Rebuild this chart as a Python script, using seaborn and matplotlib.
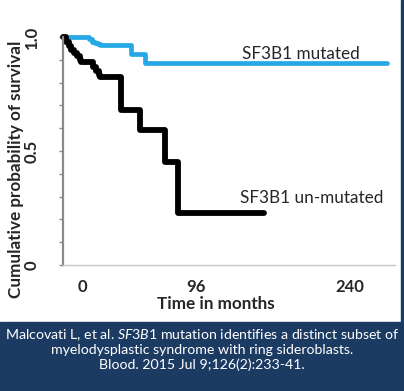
import numpy as np
import pandas as pd
import matplotlib
matplotlib.use("Agg")
import matplotlib.pyplot as plt
import seaborn as sns
from matplotlib.patches import Rectangle

# Kaplan-Meier steps (time in months, survival fraction)
mut_time = [0, 19, 21, 23, 25, 27, 49, 59, 234]
mut_surv = [1.0, 0.99, 0.98, 0.975, 0.97, 0.965, 0.925, 0.885, 0.885]

unmut_time = [0, 2, 4, 6, 8, 10, 12, 13, 22, 24, 26, 27, 42, 56, 74, 83, 145]
unmut_surv = [1.0, 0.98, 0.96, 0.945, 0.93, 0.915, 0.90, 0.89, 0.87, 0.85,
              0.835, 0.825, 0.68, 0.592, 0.452, 0.228, 0.228]

# x labels as drawn in the source figure (placed where the source draws them)
xtick_pos = [14, 96, 207]
xtick_lab = ["0", "96", "240"]
ytick_major = [0, 0.5, 1.0]
ytick_lab = ["0", "0.5", "1.0"]

citation = [
    r"Malcovati L, et al. $\mathit{SF3B1}$ mutation identifies a distinct subset of",
    "myelodysplastic syndrome with ring sideroblasts.",
    "Blood. 2015 Jul 9;126(2):233-41.",
]

BLUE = "#27A8E6"
NAVY = "#1C3B63"

sns.set_style("white")
plt.rcParams["font.family"] = ["Lato", "DejaVu Sans"]
plt.rcParams["mathtext.fontset"] = "custom"
plt.rcParams["mathtext.rm"] = "Lato"
plt.rcParams["mathtext.it"] = "Lato:italic"

df_mut = pd.DataFrame({"time": mut_time, "surv": mut_surv})
df_unmut = pd.DataFrame({"time": unmut_time, "surv": unmut_surv})

W, H = 404, 391
fig = plt.figure(figsize=(W / 100, H / 100), dpi=100)
ax = fig.add_axes([63 / W, 1 - 265 / H, (395 - 63) / W, (265 - 37) / H])

sns.lineplot(data=df_mut, x="time", y="surv", ax=ax, color=BLUE, lw=3.4,
             drawstyle="steps-post", estimator=None, clip_on=False)
sns.lineplot(data=df_unmut, x="time", y="surv", ax=ax, color="black", lw=4.2,
             drawstyle="steps-post", estimator=None, clip_on=False)

ax.set_xlim(0, 240)
ax.set_ylim(0, 1.0)
ax.set_xlabel("")
ax.set_ylabel("")

for s in ["top", "right"]:
    ax.spines[s].set_visible(False)
ax.spines["left"].set_color("#8a8a8a")
ax.spines["left"].set_linewidth(1.6)
ax.spines["bottom"].set_color("#c8c8c8")
ax.spines["bottom"].set_linewidth(1.0)

ax.set_yticks(ytick_major, ytick_lab)
ax.set_yticks(np.arange(0, 1.01, 0.1), minor=True)
ax.tick_params(axis="y", which="both", direction="out", length=3, width=1,
               color="#8a8a8a", left=True)
ax.tick_params(axis="y", which="major", labelsize=12, pad=14, labelrotation=90)
for t in ax.get_yticklabels():
    t.set_fontweight("bold")
    t.set_va("center")

ax.set_xticks(xtick_pos, xtick_lab)
ax.tick_params(axis="x", length=0, labelsize=12, pad=10)
for t in ax.get_xticklabels():
    t.set_fontweight("bold")

fig.text(242 / W, 1 - 54 / H, "SF3B1 mutated", fontsize=12.3, va="center", ha="left")
fig.text(240 / W, 1 - 198 / H, "SF3B1 un-mutated", fontsize=12.3, va="center", ha="left")

fig.text(16 / W, 1 - 169 / H, "Cumulative probability of survival", rotation=90,
         ha="center", va="center", fontsize=12.3, fontweight="bold")
fig.text(216 / W, 1 - 304 / H, "Time in months", ha="center", va="center",
         fontsize=12.3, fontweight="bold")

# banner and right edge strip
fig.patches.append(Rectangle((0, 0), 1, 69 / H, transform=fig.transFigure,
                             color=NAVY, zorder=0))
fig.patches.append(Rectangle((401 / W, 0), 3 / W, 1, transform=fig.transFigure,
                             color=NAVY, zorder=0))
for i, line in enumerate(citation):
    fig.text(202 / W, 1 - (335 + 15 * i) / H, line, ha="center", va="center",
             color="white", fontsize=10.2)

fig.savefig("out.png", dpi=100)
